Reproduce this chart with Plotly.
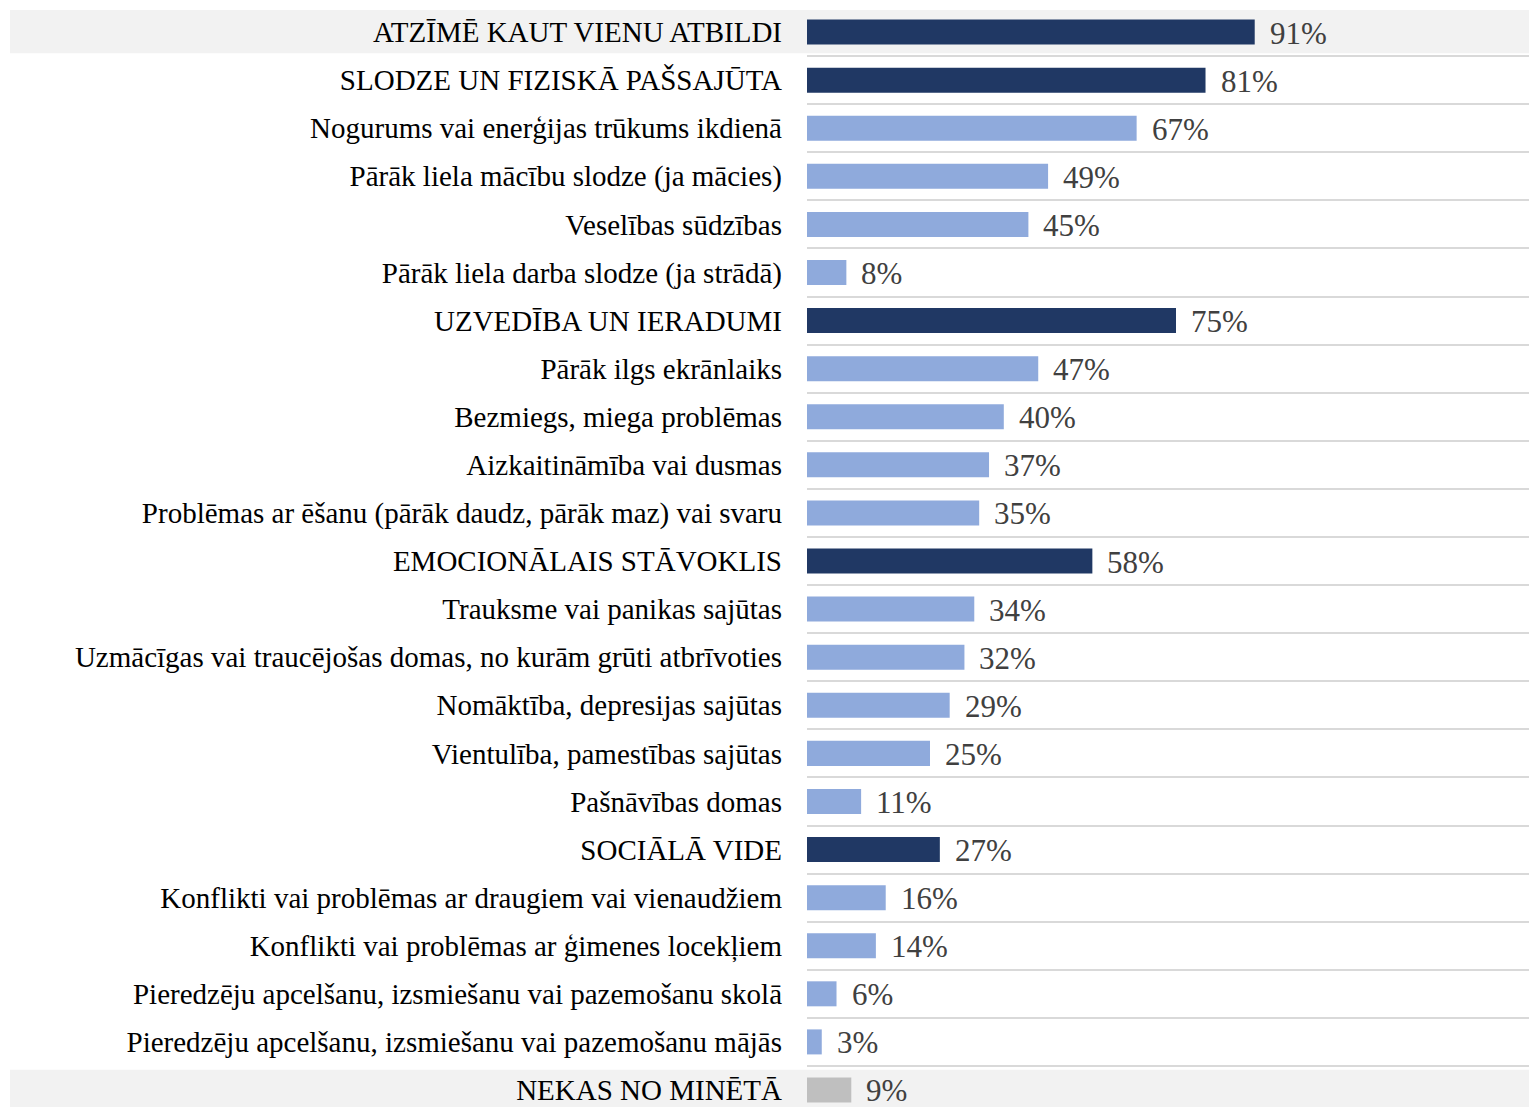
import plotly.graph_objects as go

categories = [
    "ATZĪMĒ KAUT VIENU ATBILDI",
    "SLODZE UN FIZISKĀ PAŠSAJŪTA",
    "Nogurums vai enerģijas trūkums ikdienā",
    "Pārāk liela mācību slodze (ja mācies)",
    "Veselības sūdzības",
    "Pārāk liela darba slodze (ja strādā)",
    "UZVEDĪBA UN IERADUMI",
    "Pārāk ilgs ekrānlaiks",
    "Bezmiegs, miega problēmas",
    "Aizkaitināmība vai dusmas",
    "Problēmas ar ēšanu (pārāk daudz, pārāk maz) vai svaru",
    "EMOCIONĀLAIS STĀVOKLIS",
    "Trauksme vai panikas sajūtas",
    "Uzmācīgas vai traucējošas domas, no kurām grūti atbrīvoties",
    "Nomāktība, depresijas sajūtas",
    "Vientulība, pamestības sajūtas",
    "Pašnāvības domas",
    "SOCIĀLĀ VIDE",
    "Konflikti vai problēmas ar draugiem vai vienaudžiem",
    "Konflikti vai problēmas ar ģimenes locekļiem",
    "Pieredzēju apcelšanu, izsmiešanu vai pazemošanu skolā",
    "Pieredzēju apcelšanu, izsmiešanu vai pazemošanu mājās",
    "NEKAS NO MINĒTĀ",
]
values = [91, 81, 67, 49, 45, 8, 75, 47, 40, 37, 35, 58, 34, 32, 29, 25, 11, 27, 16, 14, 6, 3, 9]
kinds = ["group", "group", "item", "item", "item", "item", "group", "item", "item", "item", "item",
         "group", "item", "item", "item", "item", "item", "group", "item", "item", "item", "item", "none"]
shaded_rows = ["ATZĪMĒ KAUT VIENU ATBILDI", "NEKAS NO MINĒTĀ"]

kind_colors = {"group": "#203864", "item": "#8FAADC", "none": "#BFBFBF"}
FONT = "Liberation Serif"

L = 799
W = 1546
XMAX = (W - L) / 4.92
fig = go.Figure()
fig.add_trace(go.Bar(
    y=categories, x=values, orientation="h",
    marker=dict(color=[kind_colors[k] for k in kinds], line=dict(width=0)),
    hoverinfo="skip",
))

for c, v in zip(categories, values):
    fig.add_annotation(x=v, y=c, xref="x", yref="y", text=f"{v}%", showarrow=False,
                       xanchor="left", yanchor="middle", xshift=13, yshift=-1,
                       font=dict(family=FONT, size=31, color="#404040"))

for c in shaded_rows:
    i = categories.index(c)
    y0 = i - 0.46 if i == 0 else i - 0.42
    y1 = i + 0.44 if i == 0 else i + 0.5
    fig.add_shape(type="rect", xref="paper", yref="y", x0=(2 - L) / (W - L), x1=1,
                  y0=y0, y1=y1, fillcolor="#F2F2F2", line=dict(width=0), layer="below")

fig.update_layout(
    width=W, height=1107,
    margin=dict(l=L, r=0, t=0, b=0),
    plot_bgcolor="rgba(0,0,0,0)", paper_bgcolor="white",
    bargap=0.48, showlegend=False,
    font=dict(family=FONT, size=29, color="#000000"),
)
fig.update_xaxes(range=[0, XMAX], showgrid=False, zeroline=False, showticklabels=False, fixedrange=True)
fig.update_yaxes(
    type="category", categoryorder="array", categoryarray=categories,
    range=[22.52, -0.5], tickson="boundaries", showgrid=True, gridcolor="#D9D9D9", gridwidth=2,
    ticks="", ticklabelstandoff=24, tickfont=dict(family=FONT, size=29, color="#000000"),
    zeroline=False, showline=False,
)

fig.write_html("out.html")
